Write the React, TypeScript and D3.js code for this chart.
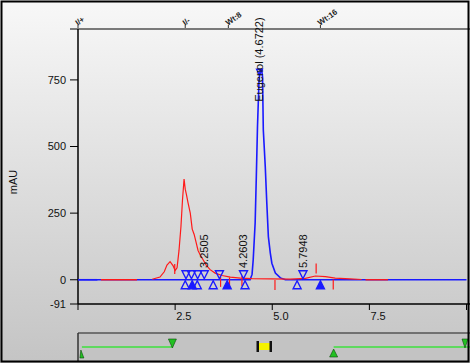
import { useEffect } from "react";
import { line as d3Line, scaleLinear, curveLinear } from "d3";

const W = 470;
const H = 363;

// red trace (time in min, mAU)
const redTimes1 = [0.59, 1.52];
const redValues1 = [0, 0];
const redTimes2 = [1.91, 2.11, 2.22, 2.29, 2.37, 2.45, 2.5, 2.55, 2.6, 2.65, 2.69, 2.73, 2.76, 2.79, 2.83, 2.89, 2.94, 2.99, 3.04, 3.09, 3.14, 3.22, 3.3, 3.4, 3.53, 3.71, 3.92, 4.18, 4.48, 4.95, 5.46, 5.85, 6.11, 6.37, 6.62, 7.0, 7.3];
const redValues2 = [2, 10, 30, 55, 68, 52, 35, 45, 110, 200, 300, 378, 340, 320, 290, 250, 190, 170, 140, 110, 95, 75, 55, 38, 25, 16, 10, 6, 4, 3, 2, 5, 14, 12, 6, 3, 1];
const redTimes3 = [7.4, 7.98];
const redValues3 = [0, 0];

// blue trace
const blueTimes = [0, 4.43, 4.48, 4.51, 4.56, 4.59, 4.62, 4.66, 4.69, 4.73, 4.75, 4.77, 4.82, 4.86, 4.9, 4.95, 4.99, 5.08, 5.21, 5.34, 10];
const blueValues = [0, 0, 20, 75, 214, 387, 574, 750, 787, 785, 762, 562, 425, 287, 162, 100, 62, 25, 7, 0, 0];

// integration markers
const peakStarts = [2.76, 2.94, 3.07, 3.48, 3.84, 4.3, 5.64, 6.24];
const peakEnds = [2.78, 2.92, 3.08, 3.25, 3.64, 4.26, 5.79];
const filledStarts = [2.94, 3.84, 6.24];
const redTickTimes = [2.49, 3.67, 3.9, 4.22, 5.07, 6.13, 6.57];
const redTickLevels = [40, -8, -10, -5, -20, 42, -18];

const peakLabels = ["3.2505", "4.2603", "5.7948", "Eugenol (4.6722)"];
const peakLabelTimes = [3.2505, 4.2603, 5.7948, 4.6722];
const peakLabelLevels = [44, 44, 44, 668];

const yTicks = [750, 500, 250, 0, -91];
const xTicks = [0, 2.5, 5, 7.5, 10];
const xTickLabels = ["", "2.5", "5.0", "7.5", ""];

const eventTimes = [0, 2.76, 3.87, 6.24];
const eventLabels = ["I/+", "I/-", "Wt:8", "Wt:16"];

const font = "'Liberation Sans', Arial, sans-serif";

export default function App() {
  useEffect(() => {
    document.body.style.margin = "0";
  }, []);

  const x = scaleLinear().domain([0, 10]).range([78, 466.5]);
  const y = scaleLinear().domain([-91, 941]).range([304, 29]);

  const mk = (ts: number[], vs: number[]) =>
    d3Line<number>()
      .x((_, i) => x(ts[i]))
      .y((v) => y(v))
      .curve(curveLinear)(vs) ?? "";

  const y0 = y(0);

  return (
    <svg width={W} height={H} style={{ position: "absolute", left: 0, top: 0, fontFamily: font }}>
      <defs>
        <linearGradient id="bg" x1="0" y1="0" x2="0" y2="1">
          <stop offset="0" stopColor="#f8f8f8" />
          <stop offset="1" stopColor="#c4c4c4" />
        </linearGradient>
      </defs>
      <rect x={0} y={0} width={W} height={H} fill="url(#bg)" />

      {/* bottom panel */}
      <rect x={78} y={333} width={W - 78} height={28} fill="#c3c3c3" />
      <line x1={78} x2={W} y1={333} y2={333} stroke="#555" strokeWidth={1.5} />
      <line x1={78} x2={78} y1={333} y2={361} stroke="#333" strokeWidth={1.5} />
      <line x1={x(0.1)} x2={x(2.43)} y1={347} y2={347} stroke="#3ee03e" strokeWidth={1.5} />
      <line x1={x(6.58)} x2={W} y1={347} y2={347} stroke="#3ee03e" strokeWidth={1.5} />
      <path d={`M${x(0.1) - 1},350 l3,8 l-4,0 z`} fill="#22c022" stroke="#0a4a0a" strokeWidth={0.6} />
      <path d={`M${x(2.43) - 4},339 l8,0 l-4,9 z`} fill="#22c022" stroke="#0a4a0a" strokeWidth={0.6} />
      <path d={`M${x(6.58)},349 l4,8 l-8,0 z`} fill="#22c022" stroke="#0a4a0a" strokeWidth={0.6} />
      <path d={`M${W - 8},339 l6,0 l-3,9 z`} fill="#22c022" stroke="#0a4a0a" strokeWidth={0.6} />
      <rect x={258} y={343} width={12} height={7} fill="#f5f200" />
      <rect x={256.5} y={341} width={2.5} height={11} fill="#111" />
      <rect x={269.5} y={341} width={2.5} height={11} fill="#111" />

      {/* top axis */}
      <line x1={70} x2={W} y1={29} y2={29} stroke="#7a7a7a" strokeWidth={2} />
      {eventTimes.map((t, i) => (
        <g key={`ev${i}`} transform={`translate(${x(t)},28)`}>
          <line y1={0} y2={-3} stroke="#333" />
          <text
            transform="rotate(-35)"
            x={1}
            y={-2}
            fontSize={8}
            fontWeight="bold"
            fill="#222"
          >
            {eventLabels[i]}
          </text>
        </g>
      ))}

      {/* y axis */}
      <line x1={78} x2={78} y1={29} y2={304} stroke="#000" strokeWidth={1.5} />
      {yTicks.map((v) => (
        <g key={`y${v}`}>
          <line x1={70} x2={78} y1={y(v)} y2={y(v)} stroke="#000" />
          <text x={66} y={y(v)} dy="0.35em" textAnchor="end" fontSize={11} fill="#111">
            {v}
          </text>
        </g>
      ))}
      <text
        transform={`translate(17,182) rotate(-90)`}
        textAnchor="middle"
        fontSize={11}
        fill="#111"
      >
        mAU
      </text>

      {/* x axis */}
      <line x1={78} x2={W} y1={304} y2={304} stroke="#000" strokeWidth={1.5} />
      {xTicks.map((t, i) => (
        <g key={`x${t}`}>
          <line x1={x(t)} x2={x(t)} y1={304} y2={310} stroke="#000" />
          <text x={x(t) + 1} y={316} dy="0.35em" fontSize={11} fill="#111">
            {xTickLabels[i]}
          </text>
        </g>
      ))}

      {/* traces */}
      <path d={mk(blueTimes, blueValues)} fill="none" stroke="#1a1aff" strokeWidth={1.6} />
      <path d={mk(redTimes1, redValues1)} fill="none" stroke="#ff1a1a" strokeWidth={1.4} />
      <path d={mk(redTimes2, redValues2)} fill="none" stroke="#ff1a1a" strokeWidth={1.2} />
      <path d={mk(redTimes3, redValues3)} fill="none" stroke="#ff1a1a" strokeWidth={1.4} />
      <line x1={x(0)} x2={x(0.5)} y1={y0} y2={y0} stroke="#1a1aff" strokeWidth={1.6} />

      {redTickTimes.map((t, i) => (
        <line
          key={`rt${i}`}
          x1={x(t)}
          x2={x(t)}
          y1={y(redTickLevels[i]) - 5}
          y2={y(redTickLevels[i]) + 5}
          stroke="#ff1a1a"
          strokeWidth={1.2}
        />
      ))}

      {/* peak markers */}
      {peakEnds.map((t, i) => (
        <path
          key={`pe${i}`}
          d={`M${x(t) - 4},${y0 - 9} l8,0 l-4,8 z`}
          fill="none"
          stroke="#1a1aff"
          strokeWidth={1.4}
        />
      ))}
      {peakStarts.map((t, i) => (
        <path
          key={`ps${i}`}
          d={`M${x(t)},${y0 + 1} l4,8 l-8,0 z`}
          fill={filledStarts.includes(t) ? "#1a1aff" : "none"}
          stroke="#1a1aff"
          strokeWidth={1.4}
        />
      ))}
      <path d={`M${x(4.6722) - 3},${y(790)} l6,0 l-3,6 z`} fill="none" stroke="#1a1aff" strokeWidth={1.3} />

      {peakLabels.map((s, i) => (
        <text
          key={`pl${i}`}
          transform={`translate(${x(peakLabelTimes[i])},${y(peakLabelLevels[i])}) rotate(-90)`}
          dy="0.35em"
          fontSize={11}
          fill="#111"
        >
          {s}
        </text>
      ))}

      {/* outer frame */}
      <rect x={1.5} y={1.5} width={W - 3} height={H - 3} fill="none" stroke="#000" strokeWidth={2} />
    </svg>
  );
}
